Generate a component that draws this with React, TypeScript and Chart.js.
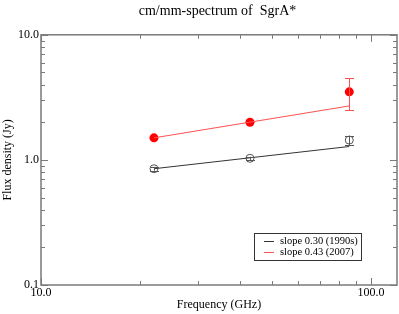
import React, { useEffect, useRef } from 'react';
import { Chart, registerables } from 'chart.js';
Chart.register(...registerables);

const TITLE = 'cm/mm-spectrum of  SgrA*';
const X_LABEL = 'Frequency (GHz)';
const Y_LABEL = 'Flux density (Jy)';
const frequencies = [22, 43, 86];
const flux1990s = [0.85, 1.03, 1.44];
const err1990s = [0.03, 0.03, 0.12];
const flux2007 = [1.5, 2.0, 3.5];
const err2007 = [0, 0, 1.0];
const fitFreq = [22, 86];
const fit1990s = [0.85, 1.28];
const fit2007 = [1.5, 2.7];
const legendLabels = ['slope 0.30 (1990s)', 'slope 0.43 (2007)'];
const xTickValues = [10, 100];
const yTickValues = [0.1, 1, 10];
const xRange = [10, 120];
const yRange = [0.1, 10];

const FONT = "'Liberation Serif', 'DejaVu Serif', serif";
const AXIS_COLOR = '#7a7a7a';
const BLACK_LINE = '#333333';
const RED_LINE = '#ff5050';
const PLOT_RIGHT_GAP = 2;

const toPts = (xs: number[], ys: number[]) => xs.map((x, i) => ({ x, y: ys[i] }));

function minorTicks(min: number, max: number): { v: number; major: boolean }[] {
  const out: { v: number; major: boolean }[] = [];
  let dec = Math.pow(10, Math.floor(Math.log10(min)));
  while (dec <= max) {
    for (let m = 1; m <= 9; m++) {
      const v = m * dec;
      if (v >= min * 0.9999 && v <= max * 1.0001) out.push({ v, major: m === 1 });
    }
    dec *= 10;
  }
  return out;
}

const stretchPlugin = {
  id: 'stretch',
  afterLayout(chart: any) {
    const right = chart.width - PLOT_RIGHT_GAP;
    const x = chart.scales.x;
    x.right = right;
    x.width = right - x.left;
    x.configure();
    chart.chartArea.right = right;
    chart.chartArea.width = right - chart.chartArea.left;
  },
};

const framePlugin = {
  id: 'frame',
  afterDatasetsDraw(chart: any) {
    const { ctx, chartArea: ca, scales } = chart;
    ctx.save();
    ctx.strokeStyle = AXIS_COLOR;
    ctx.lineWidth = 1.5;
    ctx.strokeRect(ca.left, ca.top, ca.right - ca.left, ca.bottom - ca.top);
    ctx.lineWidth = 1;
    const maj = 7, mnr = 4;
    ctx.beginPath();
    for (const t of minorTicks(xRange[0], xRange[1])) {
      const px = Math.round(scales.x.getPixelForValue(t.v)) + 0.5;
      const L = t.major ? maj : mnr;
      ctx.moveTo(px, ca.bottom); ctx.lineTo(px, ca.bottom - L);
      ctx.moveTo(px, ca.top); ctx.lineTo(px, ca.top + L);
    }
    for (const t of minorTicks(yRange[0], yRange[1])) {
      const py = Math.round(scales.y.getPixelForValue(t.v)) + 0.5;
      const L = t.major ? maj : mnr;
      ctx.moveTo(ca.left, py); ctx.lineTo(ca.left + L, py);
      ctx.moveTo(ca.right, py); ctx.lineTo(ca.right - L, py);
    }
    ctx.stroke();
    ctx.restore();
  },
};

const errorBarPlugin = {
  id: 'errbars',
  afterDatasetsDraw(chart: any) {
    const { ctx, scales } = chart;
    chart.data.datasets.forEach((ds: any) => {
      if (!ds.errors) return;
      ctx.save();
      ctx.strokeStyle = ds.errorColor;
      ctx.lineWidth = 1;
      ds.data.forEach((p: any, i: number) => {
        const e = ds.errors[i];
        if (!e) return;
        const x = Math.round(scales.x.getPixelForValue(p.x)) + 0.5;
        const y1 = scales.y.getPixelForValue(p.y + e);
        const y2 = scales.y.getPixelForValue(Math.max(p.y - e, 1e-3));
        ctx.beginPath();
        ctx.moveTo(x, y1); ctx.lineTo(x, y2);
        ctx.moveTo(x - 4.5, Math.round(y1) + 0.5); ctx.lineTo(x + 4.5, Math.round(y1) + 0.5);
        ctx.moveTo(x - 4.5, Math.round(y2) + 0.5); ctx.lineTo(x + 4.5, Math.round(y2) + 0.5);
        ctx.stroke();
      });
      ctx.restore();
    });
  },
};

const legendPlugin = {
  id: 'boxLegend',
  afterDraw(chart: any) {
    const { ctx, chartArea: ca } = chart;
    const items = chart.data.datasets.filter((d: any) => d.legendText);
    const w = 107, h = 27;
    const right = ca.right - 36, bottom = ca.bottom - 25;
    const left = right - w, top = bottom - h;
    ctx.save();
    ctx.fillStyle = '#ffffff';
    ctx.fillRect(left, top, w, h);
    ctx.strokeStyle = '#333333';
    ctx.lineWidth = 1;
    ctx.strokeRect(Math.round(left) + 0.5, Math.round(top) + 0.5, w, h);
    ctx.font = `10.5px ${FONT}`;
    ctx.textBaseline = 'middle';
    ctx.textAlign = 'left';
    items.forEach((d: any, i: number) => {
      const y = Math.round(top + 8 + i * 11) + 0.5;
      ctx.strokeStyle = d.borderColor;
      ctx.beginPath();
      ctx.moveTo(left + 10, y); ctx.lineTo(left + 20, y);
      ctx.stroke();
      ctx.fillStyle = '#000000';
      ctx.fillText(d.legendText, left + 26, y);
    });
    ctx.restore();
  },
};

export default function App() {
  const ref = useRef<HTMLCanvasElement | null>(null);
  useEffect(() => {
    if (!ref.current) return;
    const chart = new Chart(ref.current, {
      type: 'scatter',
      data: {
        datasets: [
          {
            data: toPts(fitFreq, fit1990s), showLine: true, pointRadius: 0,
            borderColor: BLACK_LINE, borderWidth: 1, legendText: legendLabels[0],
          } as any,
          {
            data: toPts(fitFreq, fit2007), showLine: true, pointRadius: 0,
            borderColor: RED_LINE, borderWidth: 1, legendText: legendLabels[1],
          } as any,
          {
            data: toPts(frequencies, flux1990s), showLine: false, pointRadius: 4,
            pointBorderWidth: 1, pointBorderColor: '#555555', pointBackgroundColor: 'rgba(0,0,0,0)',
            errors: err1990s, errorColor: '#555555',
          } as any,
          {
            data: toPts(frequencies, flux2007), showLine: false, pointRadius: 4.5,
            pointBorderWidth: 0, pointBorderColor: '#ff0000', pointBackgroundColor: '#ff0000',
            errors: err2007, errorColor: RED_LINE,
          } as any,
        ],
      },
      options: {
        animation: false,
        responsive: false,
        layout: { padding: { left: 0, right: 0, top: 0, bottom: 0 } },
        plugins: {
          legend: { display: false },
          tooltip: { enabled: false },
          title: {
            display: true, text: TITLE, color: '#000', fullSize: false,
            font: { family: FONT, size: 14, weight: 'normal' },
            padding: { top: 3, bottom: 15 },
          },
        },
        scales: {
          x: {
            type: 'logarithmic', min: xRange[0], max: xRange[1], position: 'bottom',
            grid: { display: false, drawTicks: false }, border: { display: false },
            afterBuildTicks: (s: any) => { s.ticks = xTickValues.map((v) => ({ value: v })); },
            afterFit: (s: any) => { s.height = 29; },
            ticks: {
              color: '#000', font: { family: FONT, size: 12 }, padding: 1, maxRotation: 0,
              autoSkip: false, callback: (v: any) => Number(v).toFixed(1),
            },
            title: {
              display: true, text: X_LABEL, color: '#000',
              font: { family: FONT, size: 12 }, padding: { top: 0, bottom: 2 },
            },
          },
          y: {
            type: 'logarithmic', min: yRange[0], max: yRange[1], position: 'left',
            grid: { display: false, drawTicks: false }, border: { display: false },
            afterBuildTicks: (s: any) => { s.ticks = yTickValues.map((v) => ({ value: v })); },
            afterFit: (s: any) => { s.width = 41; },
            ticks: {
              color: '#000', font: { family: FONT, size: 12 }, padding: 2,
              autoSkip: false, callback: (v: any) => Number(v).toFixed(1),
            },
            title: {
              display: true, text: Y_LABEL, color: '#000',
              font: { family: FONT, size: 12 }, padding: { top: 1, bottom: 0 },
            },
          },
        },
      } as any,
      plugins: [stretchPlugin, framePlugin, errorBarPlugin, legendPlugin],
    });
    return () => chart.destroy();
  }, []);
  return (
    <div style={{ position: 'fixed', left: 0, top: 0, width: 399, height: 314, background: '#fff' }}>
      <canvas ref={ref} width={399} height={314} />
    </div>
  );
}
